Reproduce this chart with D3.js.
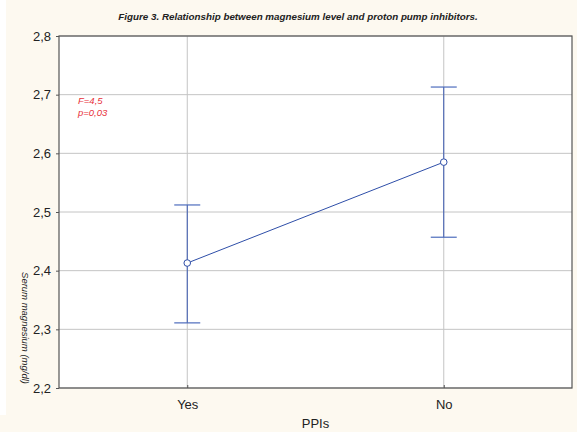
<!DOCTYPE html>
<html>
<head>
<meta charset="utf-8">
<script src="https://cdn.jsdelivr.net/npm/d3@7"></script>
<style>
  body { margin: 0; background: #fdf9f0; }
  svg { display: block; font-family: Arial, "Liberation Sans", sans-serif; }
</style>
</head>
<body>
<div id="viz"></div>
<script>
var groups = ["Yes", "No"],
    means = [2.413, 2.585],
    upper = [2.512, 2.713],
    lower = [2.311, 2.457],
    yTicks = [2.2, 2.3, 2.4, 2.5, 2.6, 2.7, 2.8];

var margin = {top: 36, right: 5, bottom: 44, left: 59},
    width = 577 - margin.left - margin.right,
    height = 432 - margin.top - margin.bottom;

var svg = d3.select("#viz").append("svg")
    .attr("width", 577)
    .attr("height", 432);

svg.append("rect").attr("width", 577).attr("height", 432).attr("fill", "#fdf9f0");
svg.append("rect").attr("width", 6).attr("height", 415).attr("fill", "#ffffff");

svg.append("text")
    .attr("x", 298).attr("y", 20)
    .attr("text-anchor", "middle")
    .style("font-size", "9.8px").style("font-weight", "bold").style("font-style", "italic")
    .attr("fill", "#222")
    .text("Figure 3. Relationship between magnesium level and proton pump inhibitors.");

var g = svg.append("g").attr("transform", "translate(" + margin.left + "," + margin.top + ")");

var x = d3.scalePoint().domain(groups).range([0, width]).padding(0.5);
var y = d3.scaleLinear().domain([2.2, 2.8]).range([height, 0]);

g.append("rect").attr("width", width).attr("height", height).attr("fill", "#fff");

// grid
g.selectAll(".hgrid").data(yTicks).enter().append("line")
    .attr("x1", 0).attr("x2", width)
    .attr("y1", function(d) { return y(d); }).attr("y2", function(d) { return y(d); })
    .attr("stroke", "#c4c4c4");
g.selectAll(".vgrid").data(groups).enter().append("line")
    .attr("x1", function(d) { return x(d); }).attr("x2", function(d) { return x(d); })
    .attr("y1", 0).attr("y2", height)
    .attr("stroke", "#c4c4c4");

// axes
var yAxis = g.append("g").call(d3.axisLeft(y).tickValues(yTicks).tickSize(3).tickPadding(5)
    .tickFormat(function(d) { return d3.format(".1f")(d).replace(".", ","); }));
var xAxis = g.append("g").attr("transform", "translate(0," + height + ")")
    .call(d3.axisBottom(x).tickSize(3).tickPadding(9));
[xAxis, yAxis].forEach(function(a) {
  a.select(".domain").remove();
  a.selectAll("line").attr("stroke", "#555");
  a.selectAll("text").style("font-size", "13px").attr("fill", "#222");
});
xAxis.selectAll(".tick line").attr("y2", -3);

// frame
g.append("rect").attr("width", width).attr("height", height)
    .attr("fill", "none").attr("stroke", "#555").attr("stroke-width", 1.2);

// error bars
var eb = g.selectAll(".eb").data(groups).enter().append("g");
eb.append("line")
    .attr("x1", function(d) { return x(d); }).attr("x2", function(d) { return x(d); })
    .attr("y1", function(d, i) { return y(upper[i]); }).attr("y2", function(d, i) { return y(lower[i]); })
    .attr("stroke", "#3a58b0").attr("stroke-width", 1);
eb.append("line")
    .attr("x1", function(d) { return x(d) - 13; }).attr("x2", function(d) { return x(d) + 13; })
    .attr("y1", function(d, i) { return y(upper[i]); }).attr("y2", function(d, i) { return y(upper[i]); })
    .attr("stroke", "#4d6cbd").attr("stroke-width", 1.2);
eb.append("line")
    .attr("x1", function(d) { return x(d) - 13; }).attr("x2", function(d) { return x(d) + 13; })
    .attr("y1", function(d, i) { return y(lower[i]); }).attr("y2", function(d, i) { return y(lower[i]); })
    .attr("stroke", "#4d6cbd").attr("stroke-width", 1.2);

// mean line
g.append("path")
    .datum(means)
    .attr("fill", "none").attr("stroke", "#2e4ea8").attr("stroke-width", 1)
    .attr("d", d3.line().x(function(d, i) { return x(groups[i]); }).y(function(d) { return y(d); }));

g.selectAll(".pt").data(means).enter().append("circle")
    .attr("cx", function(d, i) { return x(groups[i]); })
    .attr("cy", function(d) { return y(d); })
    .attr("r", 3.3)
    .attr("fill", "#fff").attr("stroke", "#2e4ea8").attr("stroke-width", 1);

// annotation
var ann = g.append("text").attr("fill", "#e8303a")
    .style("font-size", "9.5px").style("font-style", "italic");
ann.append("tspan").attr("x", 19).attr("y", 68).text("F=4,5");
ann.append("tspan").attr("x", 19).attr("y", 80).text("p=0,03");

// axis titles
svg.append("text")
    .attr("x", margin.left + width / 2).attr("y", 428)
    .attr("text-anchor", "middle")
    .style("font-size", "13px").attr("fill", "#222")
    .text("PPIs");

svg.append("text")
    .attr("transform", "translate(22,328) rotate(90)")
    .attr("text-anchor", "middle")
    .style("font-size", "9.5px").style("font-style", "italic").attr("fill", "#222")
    .text("Serum magnesium (mg/dl)");
</script>
</body>
</html>
